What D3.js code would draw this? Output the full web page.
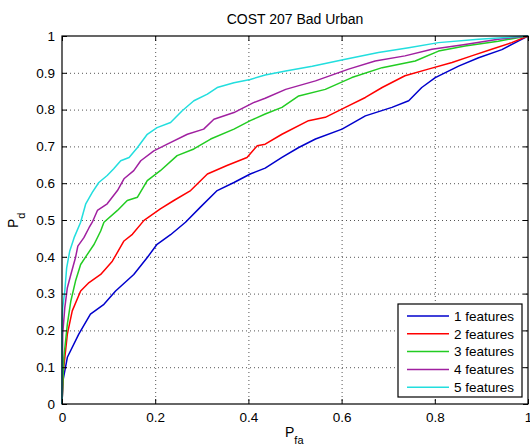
<!DOCTYPE html>
<html>
<head>
<meta charset="utf-8">
<script src="https://cdn.jsdelivr.net/npm/d3@7"></script>
<style>
body { margin: 0; background: #fff; }
text { font-family: "Liberation Sans", Arial, sans-serif; }
</style>
</head>
<body>
<div id="chart"></div>
<script>
// ROC points, [Pfa, Pd]
var feat1 = [[0,0],[0.002,0.063],[0.0115,0.127],[0.036,0.19],[0.061,0.244],[0.09,0.271],[0.115,0.307],
	[0.154,0.352],[0.183,0.398],[0.204,0.434],[0.233,0.46],[0.265,0.494],[0.297,0.535],[0.333,0.58],[0.369,0.602],
	[0.404,0.625],[0.436,0.641],[0.472,0.67],[0.508,0.697],[0.544,0.72],[0.601,0.747],[0.651,0.783],
	[0.708,0.806],[0.744,0.824],[0.772,0.86],[0.801,0.887],[0.851,0.918],[0.894,0.941],[0.944,0.963],
	[0.979,0.986],[1,1]]
var feat2 = [[0,0],[0.003,0.09],[0.0115,0.19],[0.022,0.253],[0.04,0.307],[0.058,0.33],[0.083,0.352],
	[0.108,0.388],[0.133,0.443],[0.151,0.461],[0.176,0.499],[0.211,0.53],[0.24,0.553],[0.276,0.58],
	[0.312,0.625],[0.354,0.648],[0.397,0.67],[0.419,0.702],[0.436,0.706],[0.472,0.733],[0.529,0.77],
	[0.565,0.779],[0.608,0.806],[0.651,0.833],[0.687,0.86],[0.736,0.892],[0.786,0.91],[0.837,0.928],
	[0.879,0.946],[0.922,0.964],[0.965,0.982],[1,1]]
var feat3 = [[0,0],[0.004,0.127],[0.0115,0.217],[0.019,0.28],[0.029,0.334],[0.04,0.379],[0.054,0.406],
	[0.069,0.434],[0.083,0.47],[0.09,0.494],[0.119,0.526],[0.14,0.553],[0.162,0.562],[0.183,0.607],
	[0.211,0.634],[0.247,0.675],[0.283,0.693],[0.319,0.72],[0.369,0.747],[0.404,0.77],[0.436,0.788],
	[0.472,0.806],[0.508,0.837],[0.565,0.855],[0.622,0.887],[0.687,0.914],[0.758,0.932],[0.808,0.959],
	[0.865,0.973],[0.936,0.986],[1,1]]
var feat4 = [[0,0],[0.0015,0.19],[0.006,0.262],[0.0115,0.316],[0.019,0.352],[0.029,0.398],[0.034,0.429],
	[0.047,0.452],[0.058,0.479],[0.065,0.494],[0.076,0.526],[0.097,0.544],[0.119,0.58],[0.133,0.612],
	[0.154,0.634],[0.169,0.661],[0.197,0.688],[0.226,0.706],[0.269,0.733],[0.304,0.747],[0.326,0.774],
	[0.369,0.792],[0.411,0.819],[0.436,0.831],[0.48,0.855],[0.544,0.878],[0.615,0.91],[0.672,0.932],
	[0.736,0.946],[0.794,0.964],[0.865,0.977],[0.936,0.991],[1,1]]
var feat5 = [[0,0],[0,0.217],[0.0015,0.262],[0.006,0.307],[0.01,0.37],[0.0165,0.415],[0.026,0.452],
	[0.04,0.494],[0.051,0.544],[0.065,0.575],[0.079,0.602],[0.097,0.621],[0.111,0.639],[0.126,0.661],
	[0.144,0.67],[0.162,0.697],[0.183,0.733],[0.204,0.751],[0.233,0.765],[0.258,0.797],[0.283,0.824],
	[0.312,0.842],[0.333,0.86],[0.369,0.873],[0.404,0.882],[0.436,0.894],[0.48,0.905],[0.537,0.918],
	[0.608,0.937],[0.679,0.955],[0.744,0.968],[0.808,0.982],[0.894,0.991],[1,1]]

var seriesNames = ['1 features', '2 features', '3 features', '4 features', '5 features']
var seriesColors = ['#0000cc', '#ff0000', '#22cc22', '#a020a0', '#22dede']
var series = [feat1, feat2, feat3, feat4, feat5]

var xTicks = [0, 0.2, 0.4, 0.6, 0.8, 1]
var yTicks = [0, 0.1, 0.2, 0.3, 0.4, 0.5, 0.6, 0.7, 0.8, 0.9, 1]

var margin = {left: 62, top: 36, right: 2, bottom: 44}
var W = 530, H = 448
var w = W - margin.left - margin.right, h = H - margin.top - margin.bottom

var svg = d3.select('#chart').append('svg').attr('width', W).attr('height', H)
var g = svg.append('g').attr('transform', 'translate(' + margin.left + ',' + margin.top + ')')

var x = d3.scaleLinear().domain([0, 1]).range([0, w])
var y = d3.scaleLinear().domain([0, 1]).range([h, 0])
var fmt = d3.format('~g')

// dotted grid
g.selectAll('.gx').data(xTicks.slice(1, -1)).enter().append('line')
	.attr('x1', function(d){return x(d) + 0.5}).attr('x2', function(d){return x(d) + 0.5})
	.attr('y1', 0).attr('y2', h)
	.attr('stroke', '#555').attr('stroke-dasharray', '1,3')
g.selectAll('.gy').data(yTicks.slice(1, -1)).enter().append('line')
	.attr('y1', function(d){return y(d) + 0.5}).attr('y2', function(d){return y(d) + 0.5})
	.attr('x1', 0).attr('x2', w)
	.attr('stroke', '#555').attr('stroke-dasharray', '1,3')

// curves
var line = d3.line().x(function(d){return x(d[0])}).y(function(d){return y(d[1])})
g.selectAll('.roc').data(series).enter().append('path')
	.attr('d', line)
	.attr('fill', 'none')
	.attr('stroke', function(d, i){return seriesColors[i]})
	.attr('stroke-width', 1.5)
	.attr('stroke-linejoin', 'round')

// axes, ticks pointing inward on all sides
function styleAxis(sel) {
	sel.select('.domain').remove()
	sel.selectAll('text').attr('font-size', 13.5).attr('fill', '#000')
	sel.selectAll('line').attr('stroke', '#000')
}
g.append('g').attr('transform', 'translate(0,' + h + ')')
	.call(d3.axisBottom(x).tickValues(xTicks).tickFormat(fmt).tickSizeInner(-5).tickSizeOuter(0).tickPadding(8))
	.call(styleAxis)
g.append('g')
	.call(d3.axisTop(x).tickValues(xTicks).tickFormat('').tickSizeInner(-5).tickSizeOuter(0))
	.call(styleAxis)
g.append('g')
	.call(d3.axisLeft(y).tickValues(yTicks).tickFormat(fmt).tickSizeInner(-5).tickSizeOuter(0).tickPadding(7))
	.call(styleAxis)
g.append('g').attr('transform', 'translate(' + w + ',0)')
	.call(d3.axisRight(y).tickValues(yTicks).tickFormat('').tickSizeInner(-5).tickSizeOuter(0))
	.call(styleAxis)

g.append('rect').attr('x', 0).attr('y', 0).attr('width', w).attr('height', h)
	.attr('fill', 'none').attr('stroke', '#000').attr('stroke-width', 1.2)

// title and labels
svg.append('text').attr('x', margin.left + w / 2).attr('y', 24)
	.attr('text-anchor', 'middle').attr('font-size', 14).text('COST 207 Bad Urban')

var xl = svg.append('text').attr('x', 285).attr('y', 437).attr('font-size', 14)
xl.append('tspan').text('P')
xl.append('tspan').attr('dy', 7).attr('font-size', 11).text('fa')

var yl = svg.append('text').attr('transform', 'translate(18,228) rotate(-90)').attr('font-size', 14)
yl.append('tspan').text('P')
yl.append('tspan').attr('dy', 7).attr('font-size', 11).text('d')

// legend
var lg = svg.append('g').attr('transform', 'translate(398,304)')
lg.append('rect').attr('width', 124).attr('height', 93)
	.attr('fill', '#fff').attr('stroke', '#000').attr('stroke-width', 1.2)
var items = lg.selectAll('.item').data(seriesNames).enter().append('g')
	.attr('transform', function(d, i){return 'translate(0,' + (12 + i * 17.8) + ')'})
items.append('line').attr('x1', 9).attr('x2', 51)
	.attr('stroke', function(d, i){return seriesColors[i]}).attr('stroke-width', 1.5)
items.append('text').attr('x', 56).attr('dy', '0.35em').attr('font-size', 13.5).text(function(d){return d})
</script>
</body>
</html>
